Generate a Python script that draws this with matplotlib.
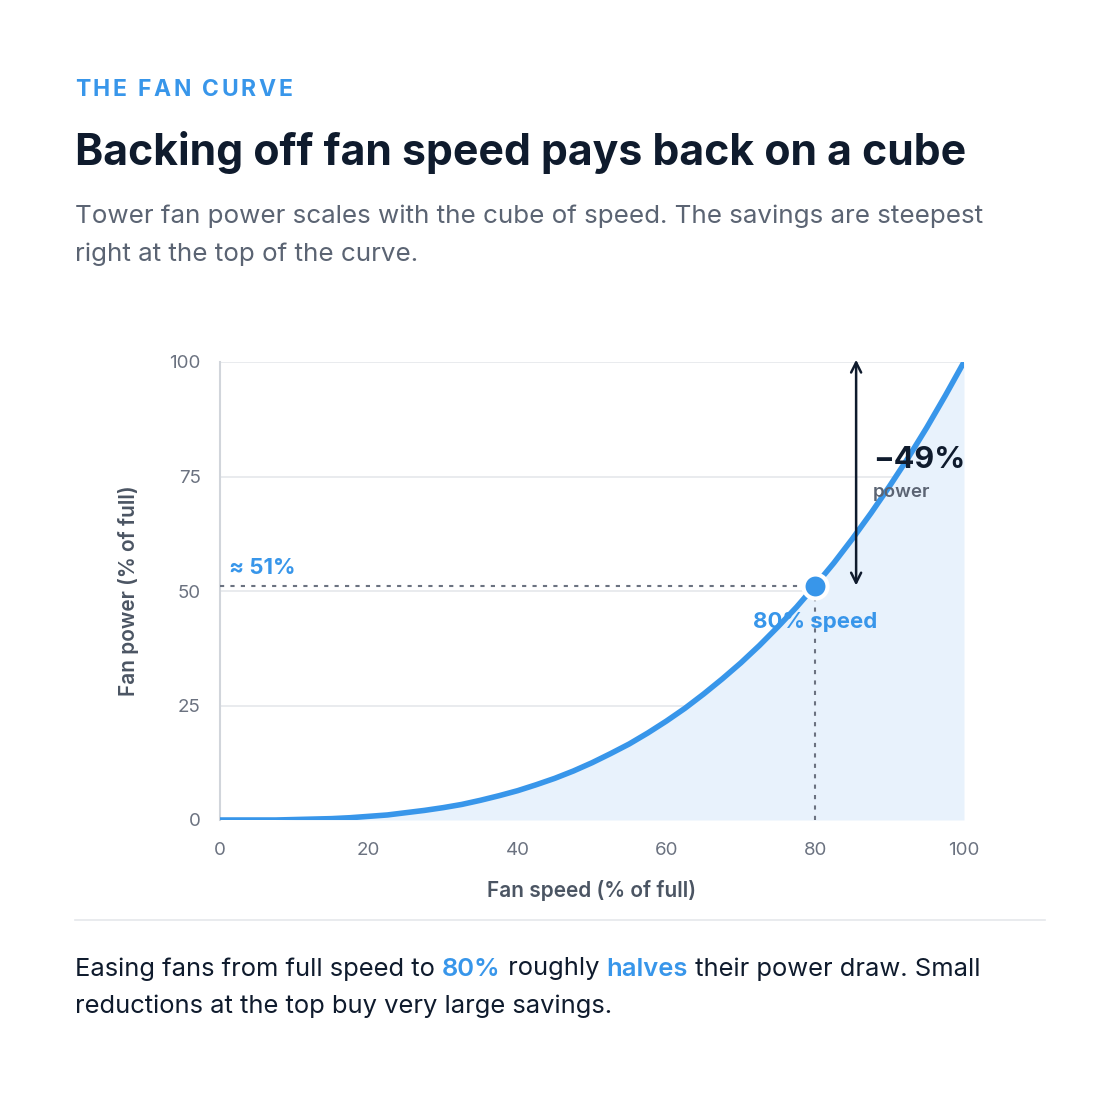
import matplotlib
matplotlib.use("Agg")
import matplotlib.pyplot as plt

plt.rcParams['font.family'] = ['Inter', 'DejaVu Sans']

# fan speed (% of full) and power (% of full)
speed = [0, 2.5, 5, 7.5, 10, 12.5, 15, 17.5, 20, 22.5, 25, 27.5, 30, 32.5, 35, 37.5, 40,
         42.5, 45, 47.5, 50, 52.5, 55, 57.5, 60, 62.5, 65, 67.5, 70, 72.5, 75, 77.5, 80,
         82.5, 85, 87.5, 90, 92.5, 95, 97.5, 100]
power = [0, 0.0, 0.0, 0.0, 0.1, 0.2, 0.3, 0.5, 0.8, 1.1, 1.6, 2.1, 2.7, 3.4, 4.3, 5.3, 6.4,
         7.7, 9.1, 10.7, 12.5, 14.5, 16.6, 19.0, 21.6, 24.4, 27.5, 30.8, 34.3, 38.1, 42.2,
         46.5, 51.2, 56.1, 61.4, 67.0, 72.9, 79.1, 85.7, 92.7, 100]
x_ticks = [0, 20, 40, 60, 80, 100]
y_ticks = [0, 25, 50, 75, 100]
marker_speed = 80
marker_power = 51.2
drop_label = "\u221249%"

BLUE = '#3896ea'
DARK = '#0f1b2d'
GRAY = '#5b6473'
TICK = '#6b7280'

fig = plt.figure(figsize=(11.2, 11.2), dpi=100)
W = H = 1120.0
renderer = fig.canvas.get_renderer()


def fy(px):
    return 1 - px / H


# kicker with letter spacing
x = 75
for ch in "THE FAN CURVE":
    t = fig.text(x / W, fy(90), ch, fontsize=16.5, fontweight='bold', color=BLUE, va='center')
    w = t.get_window_extent(renderer).width if ch != ' ' else 6
    x += w + 2.6

fig.text(75 / W, fy(152), "Backing off fan speed pays back on a cube", fontsize=30.8,
         fontweight='bold', color=DARK, va='center')
fig.text(75 / W, fy(216), "Tower fan power scales with the cube of speed. The savings are steepest",
         fontsize=18.7, color=GRAY, va='center')
fig.text(75 / W, fy(254), "right at the top of the curve.", fontsize=18.7, color=GRAY, va='center')

ax = fig.add_axes([220 / W, fy(820), 744 / W, 458 / H])
ax.fill_between(speed, power, 0, color='#e8f2fc', lw=0, zorder=1)
ax.plot(speed, power, color=BLUE, lw=4, solid_capstyle='round', zorder=4)

ax.set_xlim(0, 100)
ax.set_ylim(0, 100)
ax.set_xticks(x_ticks)
ax.set_yticks(y_ticks)
ax.tick_params(length=0, labelsize=13.5, labelcolor=TICK, pad=14)
ax.tick_params(axis='x', pad=16)
ax.grid(axis='y', color='#e5e7eb', lw=1.2)
ax.set_axisbelow(True)
for s in ['top', 'right', 'bottom']:
    ax.spines[s].set_visible(False)
ax.spines['left'].set_color('#d1d5db')
ax.spines['left'].set_linewidth(1.5)
ax.set_xlabel("Fan speed (% of full)", fontsize=15, fontweight='semibold', color='#4b5563', labelpad=15)
ax.set_ylabel("Fan power (% of full)", fontsize=15, fontweight='semibold', color='#4b5563', labelpad=22)

# reference lines at 80% speed
ax.plot([0, marker_speed], [marker_power, marker_power], color='#6b7280', lw=1.5,
        ls=(0, (2, 3)), zorder=3)
ax.plot([marker_speed, marker_speed], [0, marker_power], color='#6b7280', lw=1.5,
        ls=(0, (2, 3)), zorder=3)
ax.scatter([marker_speed], [marker_power], s=300, color=BLUE, edgecolor='white',
           linewidth=3, zorder=6)
ax.text(1.2, marker_power + 1.7, "\u2248 51%", color=BLUE, fontsize=16, fontweight='bold',
        va='bottom', ha='left')
ax.text(marker_speed, marker_power - 5.8, "80% speed", color=BLUE, fontsize=16,
        fontweight='bold', va='top', ha='center', zorder=7)

# drop arrow
ax.annotate("", xy=(85.5, 100.5), xytext=(85.5, marker_power), annotation_clip=False,
            arrowprops=dict(arrowstyle='<->', color=DARK, lw=1.8, mutation_scale=18,
                            shrinkA=0, shrinkB=0), zorder=5)
ax.text(87.8, 78.5, drop_label, color=DARK, fontsize=22, fontweight='bold', va='center',
        ha='left', zorder=7)
ax.text(87.8, 71.5, "power", color=GRAY, fontsize=13.5, fontweight='semibold', va='center',
        ha='left', zorder=7)

# separator
fig.add_artist(plt.Line2D([75 / W, 1045 / W], [fy(920), fy(920)], color='#e5e7eb', lw=1.2))

# footnote with highlighted words
parts = [("Easing fans from full speed to ", DARK, 'normal'), ("80%", BLUE, 'semibold'),
         (" roughly ", DARK, 'normal'), ("halves", BLUE, 'semibold'),
         (" their power draw. Small", DARK, 'normal')]
x = 75
for txt, col, wt in parts:
    t = fig.text(x / W, fy(969), txt, fontsize=18.4, color=col, fontweight=wt, va='center')
    x += t.get_window_extent(renderer).width
fig.text(75 / W, fy(1006), "reductions at the top buy very large savings.", fontsize=18.4,
         color=DARK, va='center')

fig.savefig("out.png", dpi=100, facecolor='white')
